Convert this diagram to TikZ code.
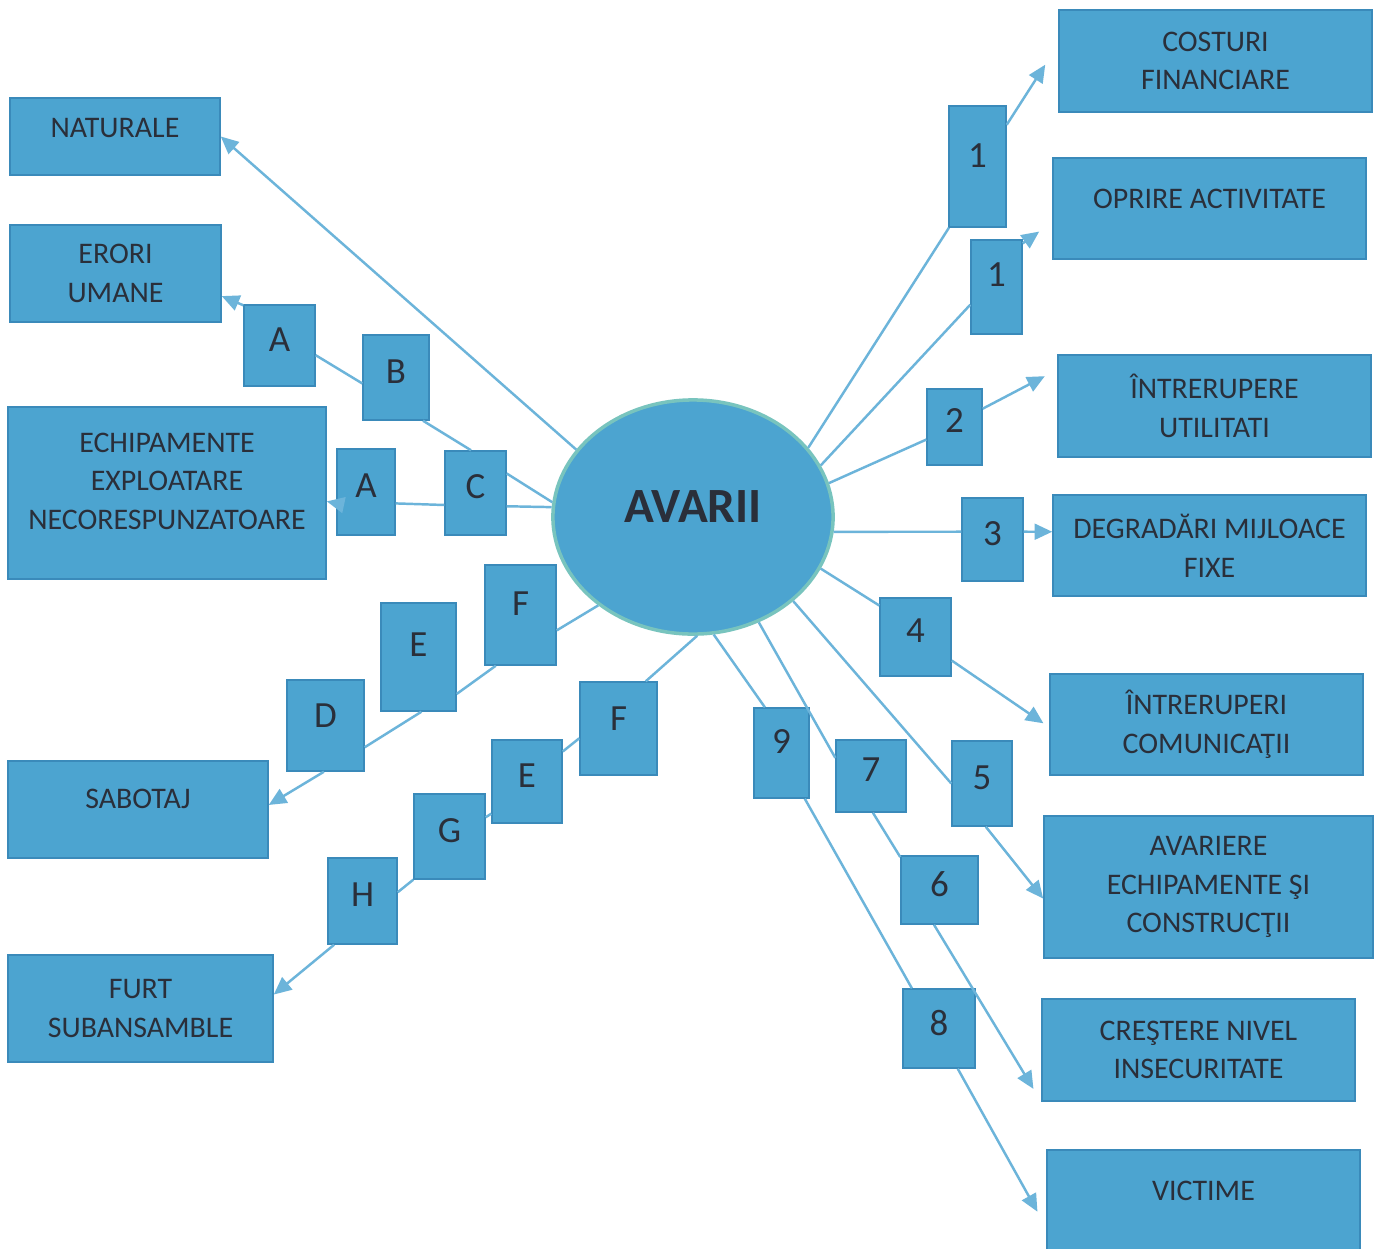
\documentclass[tikz,border=0pt]{standalone}
\usepackage{fontspec}
\setmainfont{Carlito}
\usetikzlibrary{arrows.meta,shapes.geometric}
\definecolor{boxblue}{RGB}{76,164,208}
\definecolor{boxline}{RGB}{58,138,186}
\definecolor{linkblue}{RGB}{108,180,218}
\definecolor{txtgray}{RGB}{42,47,58}
\definecolor{ringgreen}{RGB}{120,196,190}

\begin{document}
\begin{tikzpicture}[x=0.01cm, y=-0.01cm,
  bx/.style={draw=boxline, fill=boxblue, text=txtgray, align=center, inner sep=0pt, font=\fontsize{8.5}{11}\selectfont},
  lt/.style={draw=boxline, fill=boxblue, text=txtgray, inner sep=0pt, text depth=0.12cm, font=\fontsize{10.5}{12}\selectfont},
  link/.style={linkblue, line width=0.7pt},
  arr/.style={link, -{Triangle[length=5pt,width=4.5pt]}}]
\useasboundingbox [fill=white] (0,0) rectangle (1379,1248);

% centru
\node [ellipse, draw=ringgreen, line width=1pt, fill=boxblue, text=txtgray, text depth=0.2cm, minimum width=2.8cm, minimum height=2.34cm, font=\fontsize{14}{16}\selectfont\bfseries] (av) at (693,517) {AVARII};

% cauze
\node [bx, minimum width=2.1cm, minimum height=0.77cm, text depth=0.18cm] (nat) at (115,136.5) {NATURALE};
\node [bx, minimum width=2.11cm, minimum height=0.97cm] (eror) at (115.5,273.5) {ERORI\\UMANE};
\node [bx, minimum width=3.18cm, minimum height=1.72cm, text depth=0.24cm] (echip) at (167,493) {ECHIPAMENTE\\EXPLOATARE\\NECORESPUNZATOARE};
\node [bx, minimum width=2.6cm, minimum height=0.97cm, text depth=0.22cm] (sabot) at (138,809.5) {SABOTAJ};
\node [bx, minimum width=2.65cm, minimum height=1.07cm] (furt) at (140.5,1008.5) {FURT\\SUBANSAMBLE};

\node [lt, minimum width=0.71cm, minimum height=0.81cm] (a1) at (279.5,345.5) {A};
\node [lt, minimum width=0.66cm, minimum height=0.85cm] (b) at (396,377.5) {B};
\node [lt, minimum width=0.58cm, minimum height=0.86cm] (a2) at (366,492) {A};
\node [lt, minimum width=0.61cm, minimum height=0.84cm] (c) at (475.5,493) {C};
\node [lt, minimum width=0.71cm, minimum height=1cm, text depth=0.22cm] (f1) at (520.5,615) {F};
\node [lt, minimum width=0.75cm, minimum height=1.08cm, text depth=0.24cm] (e1) at (418.5,657) {E};
\node [lt, minimum width=0.77cm, minimum height=0.91cm, text depth=0.2cm] (d) at (325.5,725.5) {D};
\node [lt, minimum width=0.77cm, minimum height=0.93cm, text depth=0.2cm] (f2) at (618.5,728.5) {F};
\node [lt, minimum width=0.7cm, minimum height=0.83cm] (e2) at (527,781.5) {E};
\node [lt, minimum width=0.71cm, minimum height=0.85cm] (g) at (449.5,836.5) {G};
\node [lt, minimum width=0.69cm, minimum height=0.86cm] (h) at (362.5,901) {H};

% efecte
\node [bx, minimum width=3.13cm, minimum height=1.02cm] (cost) at (1215.5,61) {COSTURI\\FINANCIARE};
\node [bx, minimum width=3.13cm, minimum height=1.01cm, text depth=0.2cm] (opr) at (1209.5,208.5) {OPRIRE ACTIVITATE};
\node [bx, minimum width=3.13cm, minimum height=1.02cm] (util) at (1214.5,406) {ÎNTRERUPERE\\UTILITATI};
\node [bx, minimum width=3.13cm, minimum height=1.01cm] (degr) at (1209.5,545.5) {DEGRADĂRI MIJLOACE\\FIXE};
\node [bx, minimum width=3.13cm, minimum height=1.01cm] (comm) at (1206.5,724.5) {ÎNTRERUPERI\\COMUNICAŢII};
\node [bx, minimum width=3.29cm, minimum height=1.42cm] (avar) at (1208.5,887) {AVARIERE\\ECHIPAMENTE ŞI\\CONSTRUCŢII};
\node [bx, minimum width=3.13cm, minimum height=1.02cm] (cres) at (1198.5,1050) {CREŞTERE NIVEL\\INSECURITATE};
\node [bx, minimum width=3.13cm, minimum height=1.05cm, text depth=0.24cm] (vict) at (1203.5,1202.5) {VICTIME};

\node [lt, minimum width=0.57cm, minimum height=1.21cm, text depth=0.22cm] (n1a) at (977.5,166.5) {1};
\node [lt, minimum width=0.51cm, minimum height=0.94cm, text depth=0.24cm] (n1b) at (996.5,287) {1};
\node [lt, minimum width=0.55cm, minimum height=0.76cm] (n2) at (954.5,427) {2};
\node [lt, minimum width=0.61cm, minimum height=0.83cm] (n3) at (992.5,539.5) {3};
\node [lt, minimum width=0.71cm, minimum height=0.78cm] (n4) at (915.5,637) {4};
\node [lt, minimum width=0.6cm, minimum height=0.85cm] (n5) at (982,783.5) {5};
\node [lt, minimum width=0.77cm, minimum height=0.68cm] (n6) at (939.5,890) {6};
\node [lt, minimum width=0.7cm, minimum height=0.72cm] (n7) at (871,776) {7};
\node [lt, minimum width=0.72cm, minimum height=0.79cm] (n8) at (939,1028.5) {8};
\node [lt, minimum width=0.55cm, minimum height=0.9cm, text depth=0.22cm] (n9) at (781.5,753) {9};

% legaturi stanga
\draw [arr] (av.150) -- (nat.east);
\draw [link] (av.174) -- (c.32);
\draw [link] (c.96) -- (b.302);
\draw [link] (b.190) -- (a1.345);
\draw [arr] (a1.132) -- (eror.348);
\draw [link] (av.176) -- (c.337);
\draw [link] (c.201) -- (a2.339);
\draw [arr] (a2.201) -- (echip.357);
\draw [link] (av.223) -- (f1.337);
\draw [link] (f1.244) -- (e1.316);
\draw [link] (e1.273) -- (d.331);
\draw [arr] (d.268) -- (sabot.2);
\draw [link] (av.272) -- (f2.60);
\draw [link] (f2.194) -- (e2.40);
\draw [link] (e2.222) -- (g.28);
\draw [link] (g.230) -- (h.14);
\draw [arr] (h.237) -- (furt.6);

% legaturi dreapta
\draw [link] (av.31) -- (n1a.245);
\draw [arr, shorten >=0.24cm] (n1a.55) -- (cost.174);
\draw [link] (av.22) -- (n1b.214);
\draw [arr, shorten >=0.16cm] (n1b.59) -- (opr.185);
\draw [link] (av.14) -- (n2.204);
\draw [arr, shorten >=0.14cm] (n2.33) -- (util.167);
\draw [link] (av.354) -- (n3.166);
\draw [arr] (n3.14) -- (degr.175);
\draw [link] (av.338) -- (n4.139);
\draw [arr, shorten >=0.07cm] (n4.327) -- (comm.181);
\draw [link] (av.320) -- (n5.west);
\draw [arr] (n5.275) -- (avar.184);
\draw [link] (av.302) -- (n7.153);
\draw [link] (n7.273) -- (n6.140);
\draw [arr, shorten >=0.15cm] (n6.261) -- (cres.south west);
\draw [link] (av.280) -- (n9.110);
\draw [link] (n9.297) -- (n8.124);
\draw [arr, shorten >=0.18cm] (n8.295) -- (vict.189);

\end{tikzpicture}
\end{document}
